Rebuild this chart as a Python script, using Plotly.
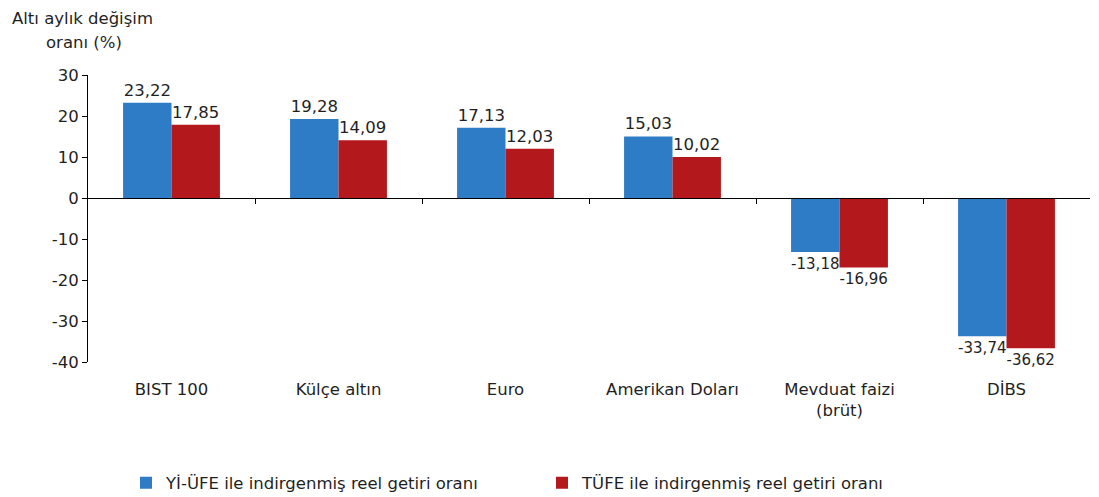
import plotly.graph_objects as go

categories = ["BIST 100", "Külçe altın", "Euro", "Amerikan Doları", "Mevduat faizi<br>(brüt)", "DİBS"]
yi_ufe = [23.22, 19.28, 17.13, 15.03, -13.18, -33.74]
tufe = [17.85, 14.09, 12.03, 10.02, -16.96, -36.62]
series_names = ["Yİ-ÜFE ile indirgenmiş reel getiri oranı", "TÜFE ile indirgenmiş reel getiri oranı"]
y_ticks = [-40, -30, -20, -10, 0, 10, 20, 30]
y_range = [-40, 30]

def fmt(v):
    return f"{v:.2f}".replace(".", ",")

FONT = "DejaVu Sans, Arial, sans-serif"
TXT = "#1f1f1f"
FS = 16.5

# page has an 8px body margin; figure sized to fit the 1099x497 window
W, H = 1091, 489
L, R, T, B = 80, 9, 67, 135
PW, PH = W - L - R, H - T - B

fig = go.Figure()
for name, vals, col in [(series_names[0], yi_ufe, "#2E7CC6"), (series_names[1], tufe, "#B3191C")]:
    fig.add_trace(go.Bar(
        x=categories, y=vals, name=name, marker_color=col, marker_line_width=0,
        text=[fmt(v) for v in vals], textposition="outside", cliponaxis=False,
        textfont=dict(size=FS, color=TXT, family=FONT),
    ))

fig.update_layout(
    width=W, height=H,
    margin=dict(l=L, r=R, t=T, b=B, autoexpand=False),
    paper_bgcolor="white", plot_bgcolor="white",
    barmode="group", bargap=0.42, bargroupgap=0,
    font=dict(family=FONT, size=FS, color=TXT),
    showlegend=True,
    legend=dict(orientation="h", xref="container", yref="container",
                x=118 / W, xanchor="left", y=1 - 475 / H, yanchor="middle",
                font=dict(size=FS, color=TXT), entrywidth=371, itemwidth=30,
                traceorder="normal"),
    xaxis=dict(type="category", showline=False, ticks="", showgrid=False,
               tickfont=dict(size=FS, color=TXT), ticklabelstandoff=15, zeroline=False),
    yaxis=dict(range=y_range, tickvals=y_ticks, ticktext=[str(t) for t in y_ticks],
               showline=True, linecolor="black", linewidth=1,
               ticks="outside", ticklen=5, tickcolor="black", showgrid=False,
               zeroline=False, tickfont=dict(size=FS, color=TXT)),
    xaxis2=dict(overlaying="x", anchor="free",
                position=(0 - y_range[0]) / (y_range[1] - y_range[0]),
                range=[-0.5, len(categories) - 0.5],
                tickvals=[i + 0.5 for i in range(len(categories) - 1)],
                showline=True, linecolor="black", linewidth=1, ticks="outside", ticklen=5,
                tickcolor="black", showticklabels=False, showgrid=False, zeroline=False),
)
fig.add_trace(go.Scatter(x=[0], y=[0], xaxis="x2", mode="markers", marker=dict(opacity=0),
                         showlegend=False, hoverinfo="skip"))

for line, xpx, ypx in [("Altı aylık değişim", 74, 10), ("oranı (%)", 76, 34)]:
    fig.add_annotation(text=line, xref="paper", yref="paper",
                       x=(xpx - L) / PW, y=1 + (T - ypx) / PH, xanchor="center", yanchor="middle",
                       showarrow=False, font=dict(size=FS, color=TXT))

fig.write_html("out.html")
